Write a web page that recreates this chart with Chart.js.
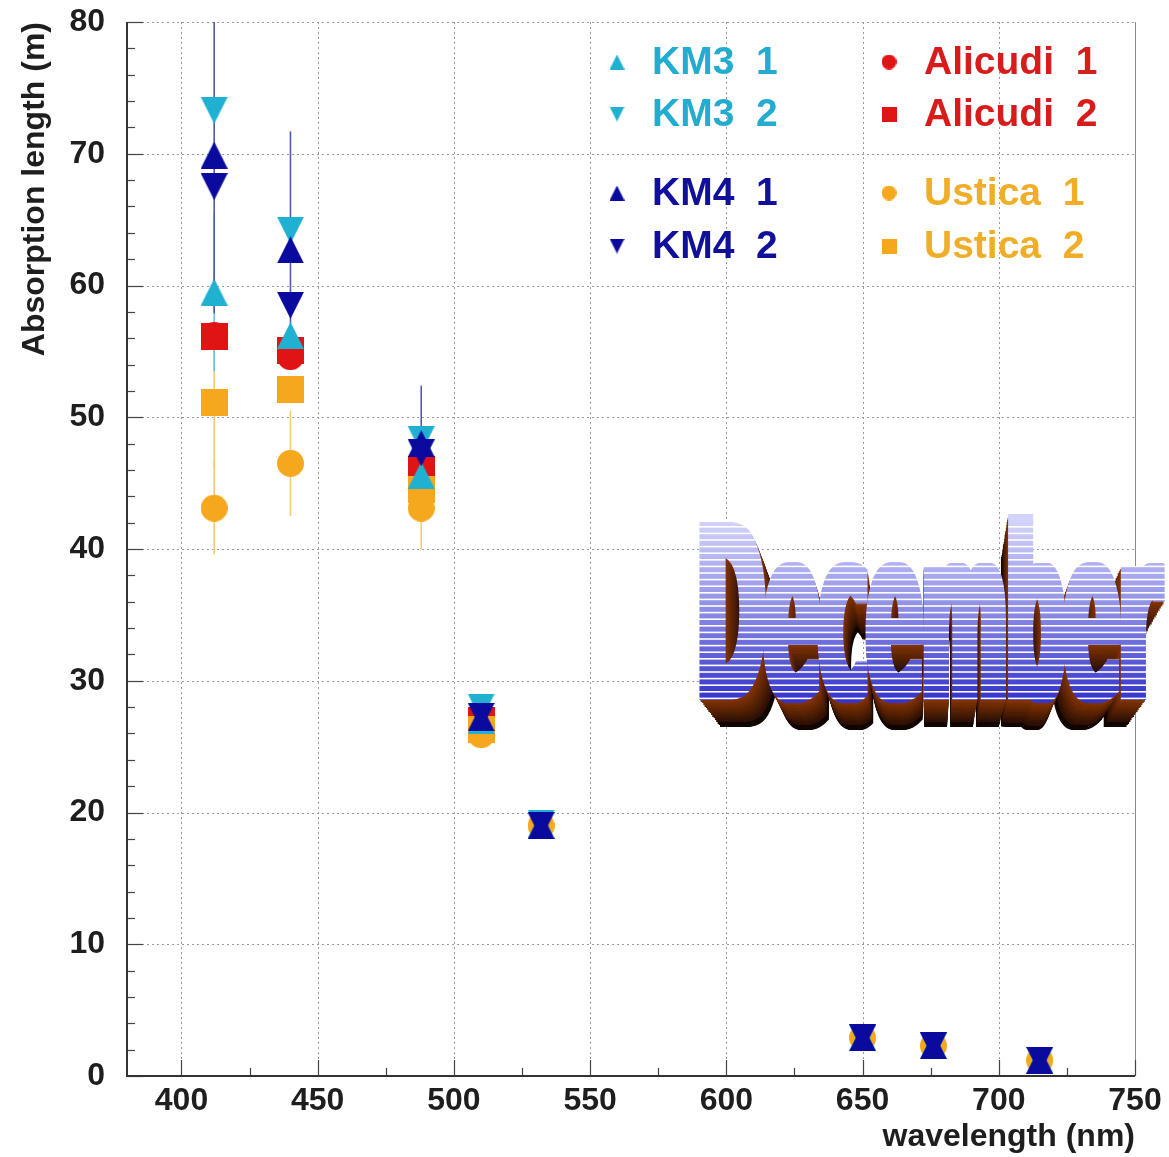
<!DOCTYPE html>
<html>
<head>
<meta charset="utf-8">
<script src="https://cdn.jsdelivr.net/npm/chart.js@4.4.1/dist/chart.umd.min.js"></script>
<style>
  html, body { margin: 0; padding: 0; background: #fff; }
</style>
</head>
<body>
<canvas id="absChart" width="1169" height="1157"></canvas>
<script>
// wavelengths (nm) of the measurements
const wavelengths = [412, 440, 488, 510, 532, 650, 676, 715];

// absorption length (m) per site / run (null = not measured)
const km3Run1 = [59.5, 56.2, 45.6, 27.0, 19.0, 2.9, 2.3, 1.2];
const km3Run2 = [73.3, 64.2, 48.3, 28.0, 19.2, 2.9, 2.3, 1.2];
const km4Run1 = [69.9, 62.7, 48.0, 27.2, 19.0, 2.9, 2.3, 1.2];
const km4Run2 = [67.5, 58.5, 47.3, 27.3, 19.0, 2.9, 2.3, 1.2];
const alicudiRun1 = [56.2, 54.6, 46.4, 27.0, null, null, null, null];
const alicudiRun2 = [56.1, 55.1, 46.0, 27.0, null, null, null, null];
const usticaRun1 = [43.1, 46.5, 43.1, 25.9, 19.0, 2.9, 2.3, 1.2];
const usticaRun2 = [51.1, 52.1, 44.5, 26.3, null, null, null, null];

// error bars (m), 0 = not visible
const km3Run1Err = [6, 0, 0, 0, 0, 0, 0, 0];
const km4Run1Err = [12, 9, 4.4, 1.3, 0, 0, 0, 0];
const usticaRun1Err = [3.5, 4, 3.1, 0, 0, 0, 0, 0];
const usticaRun2Err = [5, 0, 0, 0, 0, 0, 0, 0];
const noErr = [0, 0, 0, 0, 0, 0, 0, 0];

// axis ticks
const xTicks = [400, 450, 500, 550, 600, 650, 700, 750];
const yTicks = [0, 10, 20, 30, 40, 50, 60, 70, 80];

const cyan = '#1fb0d2';
const navy = '#0a0a9e';
const red = '#e01414';
const orange = '#f5a81e';

// ROOT-like markers (triangles centred on their box)
function makeMarker(shape, color, size) {
  const c = document.createElement('canvas');
  c.width = size; c.height = size;
  const g = c.getContext('2d');
  g.fillStyle = color;
  g.beginPath();
  if (shape === 'up') { g.moveTo(size / 2, 0); g.lineTo(size, size); g.lineTo(0, size); }
  else if (shape === 'down') { g.moveTo(0, 0); g.lineTo(size, 0); g.lineTo(size / 2, size); }
  else if (shape === 'circle') { g.arc(size / 2, size / 2, size / 2, 0, Math.PI * 2); }
  else { g.rect(0, 0, size, size); }
  g.closePath();
  g.fill();
  return c;
}

function pts(values) {
  return values.map((v, i) => ({ x: wavelengths[i], y: v }));
}

// dataset 0 is drawn on top
const series = [
  { label: 'KM4  1', data: km4Run1, err: km4Run1Err, color: navy, shape: 'up', errColor: '#5058a8' },
  { label: 'KM4  2', data: km4Run2, err: noErr, color: navy, shape: 'down', errColor: '#5058a8' },
  { label: 'KM3  1', data: km3Run1, err: km3Run1Err, color: cyan, shape: 'up', errColor: '#6cc4e0' },
  { label: 'KM3  2', data: km3Run2, err: noErr, color: cyan, shape: 'down', errColor: '#6cc4e0' },
  { label: 'Ustica  1', data: usticaRun1, err: usticaRun1Err, color: orange, shape: 'circle', errColor: '#f6cc70' },
  { label: 'Ustica  2', data: usticaRun2, err: usticaRun2Err, color: orange, shape: 'square', errColor: '#f6cc70' },
  { label: 'Alicudi  1', data: alicudiRun1, err: noErr, color: red, shape: 'circle', errColor: '#e87070' },
  { label: 'Alicudi  2', data: alicudiRun2, err: noErr, color: red, shape: 'square', errColor: '#e87070' }
];

const datasets = series.map(s => ({
  label: s.label,
  data: pts(s.data),
  pointStyle: makeMarker(s.shape, s.color, 27),
  pointRadius: 13,
  backgroundColor: s.color,
  borderColor: s.color,
  showLine: false
}));

// vertical error bars drawn under the markers
const errorBars = {
  id: 'errorBars',
  beforeDatasetsDraw(chart) {
    const { ctx, chartArea, scales } = chart;
    ctx.save();
    ctx.beginPath();
    ctx.rect(chartArea.left, chartArea.top, chartArea.right - chartArea.left, chartArea.bottom - chartArea.top);
    ctx.clip();
    ctx.lineWidth = 1.6;
    for (let d = series.length - 1; d >= 0; d--) {
      const s = series[d];
      ctx.strokeStyle = s.errColor;
      s.data.forEach((v, i) => {
        const e = s.err[i];
        if (!e || v === null) return;
        const px = scales.x.getPixelForValue(wavelengths[i]);
        ctx.beginPath();
        ctx.moveTo(px, scales.y.getPixelForValue(v + e));
        ctx.lineTo(px, scales.y.getPixelForValue(v - e));
        ctx.stroke();
      });
    }
    ctx.restore();
  }
};

// dotted grid, frame and inside tick marks (ROOT style)
const frame = {
  id: 'frame',
  beforeDatasetsDraw(chart) {
    const { ctx, chartArea: a, scales } = chart;
    ctx.save();
    ctx.strokeStyle = '#9a9a9a';
    ctx.lineWidth = 1;
    ctx.setLineDash([2, 3]);
    xTicks.forEach(v => {
      const px = Math.round(scales.x.getPixelForValue(v)) + 0.5;
      ctx.beginPath(); ctx.moveTo(px, a.top); ctx.lineTo(px, a.bottom); ctx.stroke();
    });
    yTicks.forEach(v => {
      const py = Math.round(scales.y.getPixelForValue(v)) + 0.5;
      ctx.beginPath(); ctx.moveTo(a.left, py); ctx.lineTo(a.right, py); ctx.stroke();
    });
    ctx.setLineDash([]);
    ctx.strokeStyle = '#8a8a8a';
    ctx.beginPath(); ctx.moveTo(a.right + 0.5, a.top); ctx.lineTo(a.right + 0.5, a.bottom); ctx.stroke();
    ctx.strokeStyle = '#444';
    ctx.lineWidth = 1.2;
    for (let v = 0; v <= 80; v += 2) {
      const py = Math.round(scales.y.getPixelForValue(v)) + 0.5;
      const len = v % 10 === 0 ? 16 : 8;
      ctx.beginPath(); ctx.moveTo(a.left, py); ctx.lineTo(a.left + len, py); ctx.stroke();
    }
    for (let v = 400; v <= 750; v += 25) {
      const px = Math.round(scales.x.getPixelForValue(v)) + 0.5;
      const len = v % 50 === 0 ? 16 : 8;
      ctx.beginPath(); ctx.moveTo(px, a.bottom); ctx.lineTo(px, a.bottom - len); ctx.stroke();
    }
    ctx.lineWidth = 2;
    ctx.strokeStyle = '#333';
    ctx.beginPath();
    ctx.moveTo(a.left, a.top); ctx.lineTo(a.left, a.bottom); ctx.lineTo(a.right, a.bottom);
    ctx.stroke();
    ctx.restore();
  }
};

// two-column coloured legend
const legendBox = {
  id: 'legendBox',
  afterDraw(chart) {
    const ctx = chart.ctx;
    const place = {
      'KM3  1': [617, 62], 'KM3  2': [617, 114], 'KM4  1': [617, 193], 'KM4  2': [617, 246],
      'Alicudi  1': [889, 62], 'Alicudi  2': [889, 114], 'Ustica  1': [889, 193], 'Ustica  2': [889, 246]
    };
    const textColor = { [cyan]: '#22acd0', [navy]: '#10109a', [red]: '#d81c1c', [orange]: '#f0ae28' };
    ctx.save();
    ctx.font = 'bold 39px "Liberation Sans"';
    ctx.textBaseline = 'middle';
    series.forEach(s => {
      const [mx, my] = place[s.label];
      const m = makeMarker(s.shape, s.color, 15);
      ctx.drawImage(m, mx - 7.5, my - 7.5);
      ctx.fillStyle = textColor[s.color];
      ctx.fillText(s.label, mx + 35, my + 1);
    });
    ctx.restore();
  }
};

// 3D word-art stamp
const stamp = {
  id: 'stamp',
  afterDraw(chart) {
    const ctx = chart.ctx;
    const text = 'December';
    const font = 'bold 100px "DejaVu Sans Condensed"';
    const left = 692, base = 700, width = 462, capH = 178, thick = 11;
    ctx.save();
    ctx.font = font;
    const w = ctx.measureText(text).width;
    ctx.restore();
    const sx = width / w, sy = capH / 72.9;
    const vx = 930, vy = 1000;
    const steps = 16;
    const drawWord = (c, s) => {
      for (let dx = 0; dx <= thick; dx += 1) {
        c.save();
        c.translate(vx, vy); c.scale(s, s); c.translate(-vx, -vy);
        c.translate(left + dx, base); c.scale(sx, sy);
        c.font = font;
        c.fillText(text, 0, 0);
        c.restore();
      }
    };
    // extrusion
    for (let k = steps; k >= 1; k--) {
      const t = k / steps;
      const r = Math.round(25 + 110 * (1 - t));
      const g = Math.round(8 + 45 * (1 - t));
      ctx.fillStyle = k > steps - 3 ? '#120600' : `rgb(${r},${g},4)`;
      drawWord(ctx, 1 - 0.0056 * k);
    }
    // face with gradient and white stripes
    const off = document.createElement('canvas');
    off.width = chart.width; off.height = chart.height;
    const o = off.getContext('2d');
    o.fillStyle = '#000';
    drawWord(o, 1);
    o.globalCompositeOperation = 'source-in';
    const grad = o.createLinearGradient(0, base - capH, 0, base);
    grad.addColorStop(0, '#d2d2fb');
    grad.addColorStop(0.5, '#8c8ce6');
    grad.addColorStop(1, '#3434cc');
    o.fillStyle = grad;
    o.fillRect(0, 0, off.width, off.height);
    o.globalCompositeOperation = 'source-atop';
    o.fillStyle = '#ffffff';
    for (let y = base - capH + 4; y < base; y += 6.6) {
      o.fillRect(0, y, off.width, 1.6);
    }
    ctx.drawImage(off, 0, 0);
  }
};

const tickFont = { family: 'Liberation Sans', size: 32, weight: 'bold' };

new Chart(document.getElementById('absChart'), {
  type: 'scatter',
  data: { datasets: datasets },
  options: {
    responsive: false,
    devicePixelRatio: 1,
    animation: false,
    events: [],
    layout: { padding: { left: 0, right: 34, top: 22, bottom: 0 } },
    plugins: { legend: { display: false }, tooltip: { enabled: false } },
    scales: {
      x: {
        type: 'linear', min: 380, max: 750,
        afterBuildTicks: scale => { scale.ticks = xTicks.map(v => ({ value: v })); },
        afterFit: scale => { scale.height = 81; scale.paddingLeft = 0; scale.paddingRight = 0; },
        grid: { display: false, drawTicks: false },
        border: { display: false },
        ticks: { font: tickFont, color: '#1e1e1e', padding: 6, maxRotation: 0, autoSkip: false },
        title: {
          display: true, text: 'wavelength (nm)', align: 'end',
          font: tickFont, color: '#1e1e1e', padding: { top: 0, bottom: 1 }
        }
      },
      y: {
        type: 'linear', min: 0, max: 80,
        afterBuildTicks: scale => { scale.ticks = yTicks.map(v => ({ value: v })); },
        afterFit: scale => { scale.width = 127; scale.paddingTop = 0; scale.paddingBottom = 0; },
        grid: { display: false, drawTicks: false },
        border: { display: false },
        ticks: { font: tickFont, color: '#1e1e1e', padding: 22 },
        title: {
          display: true, text: 'Absorption length (m)', align: 'end',
          font: tickFont, color: '#1e1e1e', padding: { top: 16, bottom: 0 }
        }
      }
    }
  },
  plugins: [frame, errorBars, legendBox, stamp]
});
</script>
</body>
</html>
